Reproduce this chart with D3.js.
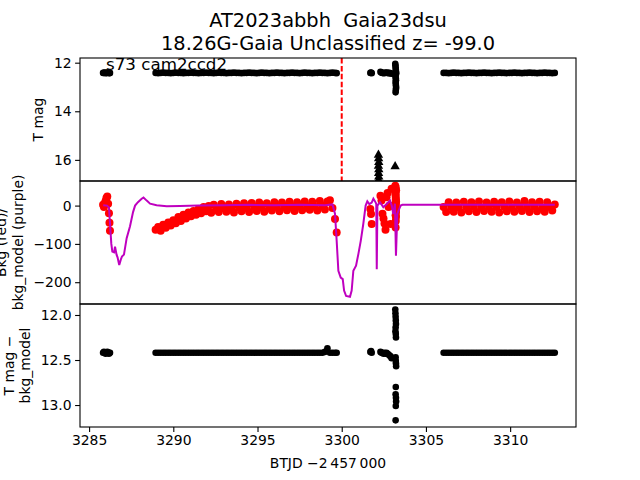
<!DOCTYPE html>
<html>
<head>
<meta charset="utf-8">
<script src="https://cdnjs.cloudflare.com/ajax/libs/d3/7.8.5/d3.min.js"></script>
<style>
  body { margin: 0; background: #fff; }
  text { font-family: "DejaVu Sans", sans-serif; }
</style>
</head>
<body>
<script>
// light curve samples (BTJD)
var btjd = [
  3285.83, 3285.88, 3285.93, 3285.98, 3286.03, 3286.08, 3286.13, 3286.18, 3286.21, 3286.24,
  3288.95, 3289.10, 3289.25, 3289.40, 3289.55, 3289.70, 3289.85, 3290.00, 3290.15, 3290.30,
  3290.45, 3290.60, 3290.75, 3290.90, 3291.05, 3291.20, 3291.35, 3291.50, 3291.65, 3291.80,
  3291.95, 3292.10, 3292.25, 3292.40, 3292.55, 3292.70, 3292.85, 3293.00, 3293.15, 3293.30,
  3293.45, 3293.60, 3293.75, 3293.90, 3294.05, 3294.20, 3294.35, 3294.50, 3294.65, 3294.80,
  3294.95, 3295.10, 3295.25, 3295.40, 3295.55, 3295.70, 3295.85, 3296.00, 3296.15, 3296.30,
  3296.45, 3296.60, 3296.75, 3296.90, 3297.05, 3297.20, 3297.35, 3297.50, 3297.65, 3297.80,
  3297.95, 3298.10, 3298.25, 3298.40, 3298.55, 3298.70, 3298.85, 3299.00, 3299.15, 3299.30,
  3299.45, 3299.60, 3299.70,
  3301.70, 3301.74, 3301.78,
  3302.30, 3302.36, 3302.42, 3302.48, 3302.54, 3302.60, 3302.66, 3302.72, 3302.78, 3302.84,
  3302.90, 3302.96,
  3303.18, 3303.19, 3303.20, 3303.21, 3303.22, 3303.20, 3303.19, 3303.21, 3303.22, 3303.20,
  3303.21, 3303.22, 3303.23, 3303.21, 3303.20, 3303.22, 3303.23, 3303.21, 3303.20,
  3306.05, 3306.20, 3306.35, 3306.50, 3306.65, 3306.80, 3306.95, 3307.10, 3307.25, 3307.40,
  3307.55, 3307.70, 3307.85, 3308.00, 3308.15, 3308.30, 3308.45, 3308.60, 3308.75, 3308.90,
  3309.05, 3309.20, 3309.35, 3309.50, 3309.65, 3309.80, 3309.95, 3310.10, 3310.25, 3310.40,
  3310.55, 3310.70, 3310.85, 3311.00, 3311.15, 3311.30, 3311.45, 3311.60, 3311.75, 3311.90,
  3312.05, 3312.20, 3312.35, 3312.50, 3312.65
];

var tmag = [
  12.42, 12.42, 12.41, 12.43, 12.42, 12.42, 12.41, 12.42, 12.43, 12.42,
  12.42, 12.43, 12.42, 12.41, 12.42, 12.42, 12.43, 12.42, 12.41, 12.42,
  12.42, 12.43, 12.42, 12.42, 12.41, 12.42, 12.42, 12.43, 12.42, 12.42,
  12.41, 12.42, 12.42, 12.43, 12.42, 12.41, 12.42, 12.42, 12.43, 12.42,
  12.42, 12.41, 12.42, 12.42, 12.43, 12.42, 12.42, 12.41, 12.42, 12.42,
  12.43, 12.42, 12.41, 12.42, 12.42, 12.43, 12.42, 12.42, 12.41, 12.42,
  12.42, 12.43, 12.42, 12.42, 12.41, 12.42, 12.42, 12.43, 12.42, 12.41,
  12.42, 12.42, 12.43, 12.42, 12.42, 12.41, 12.42, 12.42, 12.43, 12.42,
  12.41, 12.42, 12.43,
  12.42, 12.41, 12.43,
  12.38, 12.41, 12.42, 12.43, 12.42, 12.42, 12.41, 12.42, 12.43, 12.42,
  12.44, 12.45,
  12.05, 12.12, 12.20, 12.28, 12.36, 12.48, 12.56, 12.64, 12.72, 12.80,
  12.88, 12.96, 13.04, 13.12, 13.22, 12.42, 12.44, 12.46, 12.50,
  12.42, 12.42, 12.43, 12.42, 12.41, 12.42, 12.42, 12.43, 12.42, 12.42,
  12.41, 12.42, 12.42, 12.43, 12.42, 12.42, 12.41, 12.42, 12.42, 12.43,
  12.42, 12.42, 12.41, 12.42, 12.42, 12.43, 12.42, 12.42, 12.41, 12.42,
  12.42, 12.43, 12.42, 12.42, 12.41, 12.42, 12.42, 12.43, 12.42, 12.42,
  12.41, 12.42, 12.42, 12.43, 12.42
];

var bkg = [
  2, -4, 6, 12, 20, 24, 5, -20, -45, -66,
  -63, -56, -66, -50, -58, -44, -52, -38, -46, -30,
  -40, -24, -34, -18, -28, -14, -24, -9, -20, -4,
  -15, -1, -19, 2, -8, -17, 4, -7, -16, 3,
  -6, -18, 5, -5, -15, 6, -6, -17, 7, -4,
  -14, 8, -5, -16, 6, -3, -13, 9, -4, -15,
  8, -2, -12, 10, -3, -14, 9, -2, -12, 11,
  -1, -11, 10, -3, -13, 12, 0, -10, 11, 14,
  -6, -35, -70,
  -9, -22, -48,
  26, 13, -21, -34, -47, -63, 22, 33, -4, 0,
  -48, 44,
  52, 44, 26, 4, -18, -57, 35, 15, -8, 48,
  20, -30, 10, -40, 30, -10, 40, 0, -25,
  -4, -17, 9, -3, -16, 8, -5, -18, 10, -4,
  -15, 9, -3, -17, 11, -5, -14, 8, -2, -16,
  10, -4, -18, 9, -3, -15, 11, -5, -16, 8,
  -2, -14, 12, -4, -17, 9, -3, -15, 10, -5,
  -16, 9, -4, -13, 3
];

var tmagSub = [
  12.42, 12.41, 12.42, 12.43, 12.42, 12.41, 12.42, 12.43, 12.42, 12.42,
  12.42, 12.42, 12.42, 12.42, 12.42, 12.42, 12.42, 12.42, 12.42, 12.42,
  12.42, 12.42, 12.42, 12.42, 12.42, 12.42, 12.42, 12.42, 12.42, 12.42,
  12.42, 12.42, 12.42, 12.42, 12.42, 12.42, 12.42, 12.42, 12.42, 12.42,
  12.42, 12.42, 12.42, 12.42, 12.42, 12.42, 12.42, 12.42, 12.42, 12.42,
  12.42, 12.42, 12.42, 12.42, 12.42, 12.42, 12.42, 12.42, 12.42, 12.42,
  12.42, 12.42, 12.42, 12.42, 12.42, 12.42, 12.42, 12.42, 12.42, 12.42,
  12.42, 12.42, 12.42, 12.42, 12.42, 12.42, 12.42, 12.41, 12.37, 12.42,
  12.42, 12.42, 12.42,
  12.41, 12.40, 12.42,
  12.41, 12.42, 12.42, 12.43, 12.42, 12.43, 12.42, 12.43, 12.44, 12.45,
  12.46, 12.48,
  11.94, 11.98, 12.02, 12.06, 12.10, 12.14, 12.18, 12.21, 12.25, 12.47,
  12.51, 12.54, 12.57, 12.80, 12.88, 12.92, 12.96, 13.01, 13.17,
  12.42, 12.42, 12.42, 12.42, 12.42, 12.42, 12.42, 12.42, 12.42, 12.42,
  12.42, 12.42, 12.42, 12.42, 12.42, 12.42, 12.42, 12.42, 12.42, 12.42,
  12.42, 12.42, 12.42, 12.42, 12.42, 12.42, 12.42, 12.42, 12.42, 12.42,
  12.42, 12.42, 12.42, 12.42, 12.42, 12.42, 12.42, 12.42, 12.42, 12.42,
  12.42, 12.42, 12.42, 12.42, 12.42
];

// background model (purple line)
var modelTime = [
  3285.84, 3286.06, 3286.18, 3286.26, 3286.32, 3286.38, 3286.48, 3286.54, 3286.63, 3286.69,
  3286.79, 3286.89, 3286.95, 3287.07, 3287.23, 3287.43, 3287.61, 3287.73, 3287.90, 3288.12,
  3288.23, 3288.42, 3288.62, 3289.01, 3289.61, 3290.40, 3291.50, 3293.00, 3294.50, 3296.00,
  3297.50, 3299.00, 3299.45, 3299.60, 3299.70, 3299.80, 3299.94, 3300.06, 3300.14, 3300.26,
  3300.49, 3300.59, 3300.69, 3300.85, 3300.99, 3301.13, 3301.28, 3301.42, 3301.52, 3301.64,
  3301.78, 3301.88, 3301.98, 3302.05, 3302.08, 3302.12, 3302.27, 3302.47, 3302.67, 3302.87,
  3302.97, 3303.06, 3303.16, 3303.22, 3303.30, 3303.42, 3303.50, 3303.60, 3312.65
];
var modelBkg = [
  1, 0, -5, -60, -100, -120, -122, -107, -128, -135,
  -155, -140, -133, -128, -85, -54, -17, 0, 9, 18,
  21, 13, 5, 1, -2, -1, 0, 1, 2, 1,
  2, 1, 3, -21, -92, -170, -188, -192, -222, -236,
  -238, -222, -170, -157, -126, -92, -48, 0, 11, 4,
  8, 18, 11, 5, -166, 0, 9, -4, 4, 13,
  0, -22, 5, -131, -22, -8, 0, 2, 2
];

// upper limits (triangles)
var limitTime = [3302.18, 3302.19, 3302.20, 3302.18, 3302.20, 3302.19, 3302.20, 3302.19, 3303.17];
var limitMag = [15.80, 15.95, 16.10, 16.25, 16.40, 16.55, 16.70, 16.82, 16.27];

var xTicks = [3285, 3290, 3295, 3300, 3305, 3310];
var magTicks = [12, 14, 16];
var bkgTicks = [0, -100, -200];
var subTicks = [12.0, 12.5, 13.0];
var flagTime = 3300;

var width = 640, height = 480;
var left = 80, right = 576;

var svg = d3.select("body").append("svg")
  .attr("width", width)
  .attr("height", height);

var x = d3.scaleLinear().domain([3284.46, 3313.91]).range([left, right]);

var yMag = d3.scaleLinear().domain([11.807, 16.87]).range([58, 181]);
var yBkg = d3.scaleLinear().domain([64.2, -256.9]).range([181, 304]);
var ySub = d3.scaleLinear().domain([11.878, 13.244]).range([304, 427]);

var panels = [
  { id: "p1", y0: 58, y1: 181, y: yMag, ticks: magTicks, fmt: d3.format("d") },
  { id: "p2", y0: 181, y1: 304, y: yBkg, ticks: bkgTicks, fmt: d3.format("d") },
  { id: "p3", y0: 304, y1: 427, y: ySub, ticks: subTicks, fmt: d3.format(".1f") }
];

var defs = svg.append("defs");
panels.forEach(function (p) {
  defs.append("clipPath").attr("id", "clip-" + p.id)
    .append("rect")
    .attr("x", left).attr("y", p.y0)
    .attr("width", right - left).attr("height", p.y1 - p.y0);
  p.g = svg.append("g").attr("clip-path", "url(#clip-" + p.id + ")");
});

var idx = d3.range(btjd.length);

// panel 1: T mag
panels[0].g.selectAll("circle")
  .data(idx)
  .enter().append("circle")
  .attr("cx", function (i) { return x(btjd[i]); })
  .attr("cy", function (i) { return yMag(tmag[i]); })
  .attr("r", 3.3)
  .attr("fill", "black");

panels[0].g.selectAll("path.lim")
  .data(limitTime)
  .enter().append("path")
  .attr("class", "lim")
  .attr("d", d3.symbol(d3.symbolTriangle, 38))
  .attr("transform", function (d, i) { return "translate(" + x(d) + "," + yMag(limitMag[i]) + ")"; })
  .attr("fill", "black");

panels[0].g.append("line")
  .attr("x1", x(flagTime)).attr("x2", x(flagTime))
  .attr("y1", 58).attr("y2", 181)
  .attr("stroke", "red")
  .attr("stroke-width", 2)
  .attr("stroke-dasharray", "5.5,2.4");

// panel 2: background and model
panels[1].g.selectAll("circle")
  .data(idx)
  .enter().append("circle")
  .attr("cx", function (i) { return x(btjd[i]); })
  .attr("cy", function (i) { return yBkg(bkg[i]); })
  .attr("r", 4)
  .attr("fill", "red");

var modelLine = d3.line()
  .x(function (d, i) { return x(modelTime[i]); })
  .y(function (d) { return yBkg(d); });

panels[1].g.append("path")
  .datum(modelBkg)
  .attr("d", modelLine)
  .attr("fill", "none")
  .attr("stroke", "#bf00bf")
  .attr("stroke-width", 2);

// panel 3: T mag - bkg_model
panels[2].g.selectAll("circle")
  .data(idx)
  .enter().append("circle")
  .attr("cx", function (i) { return x(btjd[i]); })
  .attr("cy", function (i) { return ySub(tmagSub[i]); })
  .attr("r", 3.3)
  .attr("fill", "black");

// frames and axes
panels.forEach(function (p) {
  svg.append("rect")
    .attr("x", left).attr("y", p.y0)
    .attr("width", right - left).attr("height", p.y1 - p.y0)
    .attr("fill", "none")
    .attr("stroke", "black")
    .attr("stroke-width", 1.1);

  var ax = svg.append("g")
    .attr("transform", "translate(" + left + ",0)")
    .call(d3.axisLeft(p.y).tickValues(p.ticks).tickFormat(p.fmt).tickSize(4.9).tickPadding(3.5));
  ax.select(".domain").remove();
  ax.selectAll("line").attr("stroke-width", 1.1);
  ax.selectAll("text").attr("font-size", 13.9).attr("font-family", "DejaVu Sans").attr("fill", "black");
});

var xa = svg.append("g")
  .attr("transform", "translate(0,427)")
  .call(d3.axisBottom(x).tickValues(xTicks).tickFormat(d3.format("d")).tickSize(4.9).tickPadding(3.5));
xa.select(".domain").remove();
xa.selectAll("line").attr("stroke-width", 1.1);
xa.selectAll("text").attr("font-size", 13.9).attr("font-family", "DejaVu Sans").attr("fill", "black");

// labels
function ylabel(tx, ty, txt) {
  svg.append("text")
    .attr("transform", "translate(" + tx + "," + ty + ") rotate(-90)")
    .attr("text-anchor", "middle")
    .attr("font-size", 13.9)
    .text(txt);
}
ylabel(42.5, 119.5, "T mag");
ylabel(6, 242.5, "Bkg (red)/");
ylabel(22.5, 242.5, "bkg_model (purple)");
ylabel(13.5, 365.5, "T mag \u2212");
ylabel(30, 365.5, "bkg_model");

svg.append("text")
  .attr("x", 328).attr("y", 468)
  .attr("text-anchor", "middle")
  .attr("font-size", 13.9)
  .text("BTJD \u22122\u2009457\u2009000");

svg.append("text")
  .attr("x", 328).attr("y", 27)
  .attr("text-anchor", "middle")
  .attr("font-size", 19.4)
  .text("AT2023abbh\u00a0\u00a0Gaia23dsu");
svg.append("text")
  .attr("x", 328).attr("y", 50)
  .attr("text-anchor", "middle")
  .attr("font-size", 19.4)
  .text("18.26G-Gaia Unclassified z= -99.0");

svg.append("text")
  .attr("x", 106).attr("y", 70)
  .attr("font-size", 16.7)
  .text("s73 cam2ccd2");
</script>
</body>
</html>
